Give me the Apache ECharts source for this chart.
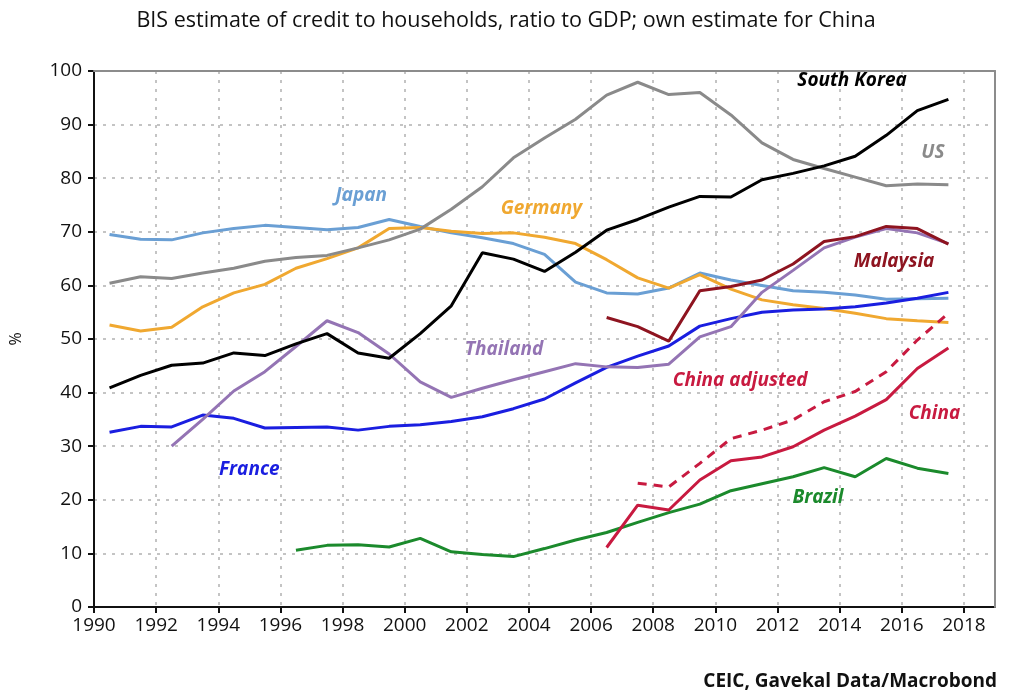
<!DOCTYPE html>
<html>
<head>
<meta charset="utf-8">
<script src="https://cdn.jsdelivr.net/npm/echarts@6/dist/echarts.min.js"></script>
<style>
html, body { margin: 0; padding: 0; background: #fff; }
#container { width: 1012px; height: 694px; }
</style>
</head>
<body>
<div id="container"></div>
<script>
// annual values, plotted at mid-year
var years = [1990, 1991, 1992, 1993, 1994, 1995, 1996, 1997, 1998, 1999,
             2000, 2001, 2002, 2003, 2004, 2005, 2006, 2007, 2008, 2009,
             2010, 2011, 2012, 2013, 2014, 2015, 2016, 2017];
var xTicks = [1990, 1992, 1994, 1996, 1998, 2000, 2002, 2004, 2006, 2008,
              2010, 2012, 2014, 2016, 2018];

var japan = [69.5, 68.6, 68.5, 69.8, 70.6, 71.2, 70.8, 70.4, 70.8, 72.3,
             71.0, 69.8, 68.9, 67.8, 65.8, 60.6, 58.6, 58.4, 59.5, 62.3,
             61.0, 60.0, 59.0, 58.7, 58.2, 57.4, 57.5, 57.6];
var germany = [52.6, 51.5, 52.2, 56.0, 58.6, 60.2, 63.2, 65.0, 67.0, 70.6,
               70.8, 70.1, 69.7, 69.8, 69.0, 67.8, 64.8, 61.4, 59.5, 62.0,
               59.3, 57.3, 56.4, 55.7, 54.8, 53.8, 53.4, 53.1];
var us = [60.4, 61.6, 61.3, 62.3, 63.2, 64.5, 65.2, 65.6, 67.0, 68.5,
          70.5, 74.2, 78.4, 83.8, 87.5, 91.0, 95.5, 97.9, 95.6, 96.0,
          91.8, 86.6, 83.5, 81.8, 80.2, 78.6, 78.9, 78.8];
var southKorea = [40.9, 43.2, 45.1, 45.5, 47.4, 46.9, 49.1, 51.0, 47.4, 46.4,
                  51.0, 56.2, 66.1, 64.9, 62.6, 66.2, 70.3, 72.3, 74.6, 76.6,
                  76.5, 79.7, 80.9, 82.3, 84.1, 88.0, 92.6, 94.7];
var france = [32.6, 33.7, 33.6, 35.8, 35.2, 33.4, 33.5, 33.6, 33.0, 33.7,
              34.0, 34.6, 35.5, 37.0, 38.8, 41.8, 44.7, 46.8, 48.7, 52.4,
              53.8, 55.0, 55.4, 55.6, 56.0, 56.7, 57.6, 58.7];
var thailand = [null, null, 30.0, 35.0, 40.3, 43.9, 48.6, 53.4, 51.2, 47.2,
                42.0, 39.1, 40.8, 42.4, 43.9, 45.4, 44.8, 44.7, 45.3, 50.4,
                52.3, 58.7, 62.8, 67.0, 69.0, 70.6, 69.8, 67.8];
var malaysia = [null, null, null, null, null, null, null, null, null, null,
                null, null, null, null, null, null, 54.0, 52.3, 49.6, 59.0,
                59.8, 61.0, 64.0, 68.2, 69.1, 71.0, 70.6, 67.7];
var china = [null, null, null, null, null, null, null, null, null, null,
             null, null, null, null, null, null, 11.1, 19.0, 18.1, 23.7,
             27.3, 28.0, 29.9, 33.0, 35.6, 38.7, 44.5, 48.3];
var chinaAdjusted = [null, null, null, null, null, null, null, null, null, null,
                     null, null, null, null, null, null, null, 23.1, 22.4, 26.8,
                     31.4, 33.0, 34.9, 38.3, 40.2, 43.9, 49.8, 54.8];
var brazil = [null, null, null, null, null, null, 10.6, 11.5, 11.6, 11.2,
              12.8, 10.3, 9.8, 9.4, 10.9, 12.5, 13.9, 15.8, 17.6, 19.2,
              21.7, 23.0, 24.3, 26.0, 24.3, 27.7, 25.9, 24.9];

var FONT = "'Open Sans', sans-serif";

function pairs(vals) {
    var out = [];
    for (var i = 0; i < years.length; i++) {
        if (vals[i] !== null) out.push([years[i] + 0.5, vals[i]]);
    }
    return out;
}

function mkSeries(name, vals, color, labelAt, dashed) {
    return {
        name: name,
        type: 'line',
        data: pairs(vals),
        showSymbol: false,
        symbol: 'none',
        lineStyle: { color: color, width: 3, type: dashed ? [9, 7] : 'solid' },
        markPoint: {
            symbol: 'circle',
            symbolSize: 0,
            silent: true,
            data: [{ name: name, coord: labelAt }],
            label: {
                show: true,
                position: 'inside',
                formatter: '{b}',
                color: color,
                fontFamily: FONT,
                fontSize: 19,
                fontWeight: 'bold',
                fontStyle: 'italic',
                letterSpacing: -0.8
            }
        }
    };
}

// plain gray frame lines for the top and right of the plot
var frameLine = { show: true, onZero: false, lineStyle: { color: '#8c8c8c', width: 2 } };

var dom = document.getElementById("container");
var myChart = echarts.init(dom, null, { renderer: "canvas" });

var option = {
    animation: false,
    backgroundColor: '#fff',
    title: [
        {
            text: 'BIS estimate of credit to households, ratio to GDP; own estimate for China',
            left: 'center',
            top: 5,
            textStyle: { fontFamily: FONT, fontSize: 21.5, fontWeight: 'normal', color: '#111', letterSpacing: -0.3 }
        },
        {
            text: 'CEIC, Gavekal Data/Macrobond',
            right: 10,
            top: 667,
            textStyle: { fontFamily: FONT, fontSize: 19, fontWeight: 'bold', color: '#111', letterSpacing: -0.4 }
        }
    ],
    grid: {
        show: false,
        left: 92,
        right: 17,
        top: 71,
        bottom: 87
    },
    xAxis: [
        {
            type: 'value',
            min: 1990,
            max: 2019,
            interval: 2,
            axisLine: { show: true, onZero: false, lineStyle: { color: '#111', width: 2 } },
            axisTick: { show: true, length: 6, customValues: xTicks, lineStyle: { color: '#111', width: 2 } },
            axisLabel: {
                color: '#111',
                fontFamily: FONT,
                fontSize: 19,
                margin: 9,
                customValues: xTicks,
                formatter: function (v) { return String(v); }
            },
            splitLine: { show: true, lineStyle: { color: '#c4c4c4', type: [3, 6], width: 2 } }
        },
        {
            type: 'value',
            position: 'top',
            min: 1990,
            max: 2019,
            axisLine: frameLine,
            axisTick: { show: false },
            axisLabel: { show: false },
            splitLine: { show: false },
            z: 5
        }
    ],
    yAxis: [
        {
            type: 'value',
            min: 0,
            max: 100,
            interval: 10,
            name: '%',
            nameLocation: 'middle',
            nameRotate: 90,
            nameGap: 70,
            nameTextStyle: { color: '#111', fontFamily: FONT, fontSize: 16 },
            axisLine: { show: true, onZero: false, lineStyle: { color: '#111', width: 2 } },
            axisTick: { show: true, length: 6, lineStyle: { color: '#111', width: 2 } },
            axisLabel: { color: '#111', fontFamily: FONT, fontSize: 19, margin: 12 },
            splitLine: { show: true, lineStyle: { color: '#c4c4c4', type: [3, 6], width: 2 } }
        },
        {
            type: 'value',
            position: 'right',
            min: 0,
            max: 100,
            axisLine: frameLine,
            axisTick: { show: false },
            axisLabel: { show: false },
            splitLine: { show: false },
            z: 5
        }
    ],
    series: [
        mkSeries('Japan', japan, '#6a9fd4', [1998.6, 76.7]),
        mkSeries('Germany', germany, '#f0a830', [2004.4, 74.4]),
        mkSeries('US', us, '#8a8a8a', [2017.0, 84.7]),
        mkSeries('France', france, '#1a1ee0', [1995.0, 25.6]),
        mkSeries('Thailand', thailand, '#9474b4', [2003.2, 48.0]),
        mkSeries('Brazil', brazil, '#1b8a2c', [2013.3, 20.5]),
        mkSeries('China adjusted', chinaAdjusted, '#c81a40', [2010.8, 42.2], true),
        mkSeries('China', china, '#c81a40', [2017.05, 36.0]),
        mkSeries('Malaysia', malaysia, '#8e1420', [2015.75, 64.4]),
        mkSeries('South Korea', southKorea, '#000000', [2014.4, 98.3])
    ]
};

myChart.setOption(option);
window.addEventListener("resize", myChart.resize);
</script>
</body>
</html>
